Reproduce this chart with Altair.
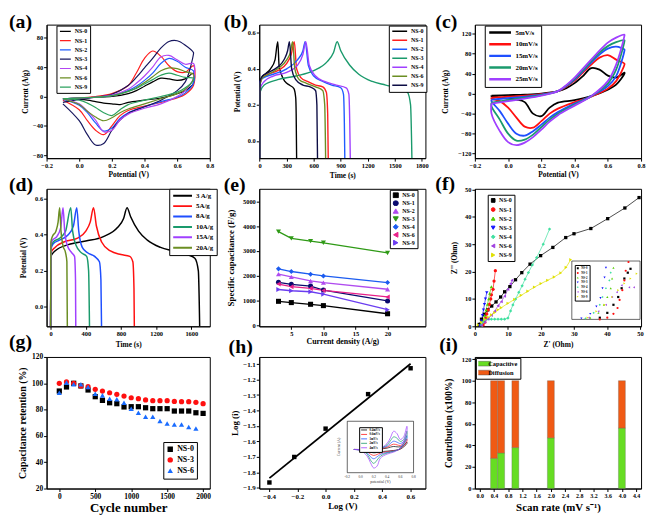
import altair as alt
import pandas as pd

FONT = "Liberation Serif"

# ---------------- (a) CV of the samples ----------------
A_NAMES = ["NS-0", "NS-1", "NS-2", "NS-3", "NS-4", "NS-6", "NS-9"]
A_COLORS = ["#000000", "#ff1f1f", "#1f5cff", "#17175e", "#b346f2", "#6b8e23", "#2ca25f"]
A_POT = [-0.1, 0.0, 0.1, 0.2, 0.3, 0.35, 0.4, 0.45, 0.5, 0.55, 0.6, 0.65, 0.7,
         0.7, 0.65, 0.6, 0.5, 0.4, 0.3, 0.25, 0.2, 0.15, 0.1, 0.05, 0.0, -0.1]
A_NS0 = [-3, -2, -1, 0, 4, 8, 14, 20, 25, 24, 22, 24, 32, 18, 8, 4, -2, -5, -8, -11, -10, -9, -7, -5, -4, -3]
A_NS1 = [-3, -2, 0, 4, 15, 32, 52, 62, 55, 42, 34, 33, 42, 15, 3, -2, -8, -13, -19, -26, -40, -52, -46, -33, -18, -5]
A_NS2 = [-3, -2, -1, 1, 8, 14, 22, 32, 45, 52, 48, 40, 35, 18, 5, -1, -7, -14, -22, -30, -43, -47, -36, -22, -12, -4]
A_NS3 = [-8, -4, -1, 3, 15, 26, 39, 52, 66, 75, 76, 70, 60, 58, 20, 8, -5, -14, -23, -32, -46, -64, -66, -52, -33, -10]
A_NS4 = [-3, -2, -1, 2, 10, 18, 28, 40, 54, 56, 50, 44, 45, 25, 8, 0, -10, -16, -24, -32, -46, -48, -32, -20, -10, -3]
A_NS6 = [-3, -2, -1, 1, 7, 12, 19, 27, 35, 39, 38, 34, 30, 24, 10, 4, -3, -10, -17, -22, -29, -33, -28, -20, -11, -3]
A_NS9 = [-3, -2, -1, 1, 7, 11, 17, 23, 29, 32, 29, 26, 25, 22, 12, 6, 0, -5, -11, -18, -26, -22, -15, -9, -5, -3]

# ---------------- (b) GCD of the samples ----------------
B_COLORS = ["#000000", "#ff1f1f", "#1f5cff", "#1a9a6c", "#a040ff", "#6b8e23", "#0d0d45"]
B_T_NS0 = [0, 2, 20, 60, 120, 170, 201, 215, 240, 280, 330, 380, 400, 405, 410]
B_V_NS0 = [-0.095, 0.30, 0.35, 0.37, 0.40, 0.45, 0.55, 0.42, 0.37, 0.33, 0.31, 0.29, 0.24, 0.15, -0.095]
B_T_NS1 = [0, 3, 30, 100, 200, 300, 350, 384, 410, 460, 530, 620, 700, 740, 755, 761]
B_V_NS1 = [-0.095, 0.32, 0.35, 0.37, 0.39, 0.43, 0.48, 0.55, 0.40, 0.35, 0.33, 0.31, 0.30, 0.27, 0.15, -0.095]
B_T_NS2 = [0, 3, 40, 150, 300, 420, 480, 505, 540, 600, 700, 800, 900, 930, 940, 945]
B_V_NS2 = [-0.095, 0.33, 0.35, 0.37, 0.40, 0.45, 0.50, 0.55, 0.42, 0.36, 0.33, 0.31, 0.295, 0.26, 0.1, -0.095]
B_T_NS3 = [0, 3, 50, 200, 400, 600, 750, 820, 860, 900, 1000, 1100, 1250, 1400, 1550, 1640, 1675, 1690]
B_V_NS3 = [-0.095, 0.27, 0.31, 0.34, 0.36, 0.39, 0.44, 0.49, 0.55, 0.50, 0.42, 0.37, 0.33, 0.31, 0.29, 0.27, 0.2, -0.095]
B_T_NS4 = [0, 3, 50, 150, 300, 420, 480, 512, 550, 620, 720, 850, 960, 990, 1000, 1006]
B_V_NS4 = [-0.095, 0.29, 0.33, 0.36, 0.38, 0.42, 0.48, 0.55, 0.42, 0.36, 0.33, 0.31, 0.295, 0.26, 0.1, -0.095]
B_T_NS6 = [0, 3, 30, 100, 200, 300, 340, 366, 390, 440, 520, 620, 700, 722, 732]
B_V_NS6 = [-0.095, 0.31, 0.35, 0.37, 0.40, 0.45, 0.49, 0.55, 0.40, 0.34, 0.32, 0.30, 0.28, 0.2, -0.095]
B_T_NS9 = [0, 3, 30, 100, 200, 270, 310, 330, 355, 400, 480, 560, 620, 635, 642]
B_V_NS9 = [-0.095, 0.33, 0.36, 0.38, 0.41, 0.45, 0.50, 0.55, 0.40, 0.34, 0.31, 0.30, 0.28, 0.2, -0.095]

# ---------------- (c) CV at scan rates ----------------
C_NAMES = ["5mV/s", "10mV/s", "15mV/s", "20mV/s", "25mV/s"]
C_COLORS = ["#000000", "#ff1010", "#1f4fff", "#1a9a6c", "#a040ff"]
C_POT = [-0.1, 0.0, 0.1, 0.2, 0.3, 0.35, 0.4, 0.45, 0.5, 0.55, 0.6, 0.65, 0.7,
         0.7, 0.65, 0.6, 0.5, 0.4, 0.3, 0.25, 0.2, 0.15, 0.1, 0.05, 0.0, -0.05, -0.1, -0.1]
C_5 = [-4, -3, -2, 0, 5, 11, 21, 35, 51, 48, 36, 32, 42, 40, 18, 8, -5, -13, -18, -28, -45, -40, -17, -12, -10, -8, -5, -4]
C_10 = [-8, -6, -4, -1, 5, 14, 26, 42, 58, 72, 77, 68, 60, 58, 25, 10, -6, -17, -30, -40, -55, -68, -66, -48, -28, -15, -10, -8]
C_15 = [-12, -9, -6, -2, 5, 15, 28, 45, 62, 78, 90, 94, 88, 86, 35, 15, -5, -20, -37, -48, -62, -75, -84, -80, -60, -35, -15, -12]
C_20 = [-18, -13, -8, -3, 5, 16, 30, 47, 65, 82, 95, 103, 107, 105, 48, 20, -5, -22, -40, -52, -67, -82, -92, -94, -80, -52, -25, -18]
C_25 = [-20, -15, -10, -4, 5, 17, 32, 50, 68, 86, 102, 112, 118, 116, 58, 25, -5, -24, -43, -56, -72, -87, -98, -103, -97, -75, -40, -20]

# ---------------- (d) GCD at current densities ----------------
D_NAMES = ["3 A/g", "5A/g", "8A/g", "10A/g", "15A/g", "20A/g"]
D_COLORS = ["#000000", "#ff1010", "#1f4fff", "#1a9a6c", "#a040ff", "#6b8e23"]
D_T_3 = [0, 3, 50, 200, 400, 600, 760, 830, 869, 910, 1000, 1100, 1250, 1400, 1550, 1640, 1680, 1695]
D_V_3 = [-0.108, 0.28, 0.31, 0.345, 0.365, 0.39, 0.44, 0.49, 0.55, 0.50, 0.42, 0.37, 0.33, 0.31, 0.29, 0.27, 0.2, -0.108]
D_T_5 = [0, 3, 50, 150, 300, 400, 450, 488, 520, 580, 680, 800, 900, 935, 948, 952]
D_V_5 = [-0.108, 0.30, 0.33, 0.36, 0.38, 0.42, 0.47, 0.55, 0.45, 0.36, 0.31, 0.29, 0.28, 0.25, 0.1, -0.108]
D_T_8 = [0, 3, 30, 100, 200, 260, 297, 320, 360, 420, 500, 555, 572, 579]
D_V_8 = [-0.108, 0.32, 0.35, 0.37, 0.40, 0.45, 0.55, 0.42, 0.33, 0.30, 0.28, 0.25, 0.15, -0.108]
D_T_10 = [0, 3, 30, 100, 170, 229, 250, 290, 350, 410, 432, 442]
D_V_10 = [-0.108, 0.33, 0.36, 0.38, 0.42, 0.55, 0.42, 0.34, 0.30, 0.28, 0.2, -0.108]
D_T_15 = [0, 3, 20, 70, 115, 141, 160, 190, 240, 272, 283, 286]
D_V_15 = [-0.108, 0.34, 0.37, 0.39, 0.44, 0.55, 0.42, 0.34, 0.30, 0.28, 0.15, -0.108]
D_T_20 = [0, 3, 20, 60, 85, 103, 118, 140, 170, 185, 190]
D_V_20 = [-0.108, 0.36, 0.39, 0.42, 0.47, 0.55, 0.42, 0.34, 0.30, 0.25, -0.108]

# ---------------- (e) rate capability ----------------
E_CUR = [3, 5, 8, 10, 20]
E_COLORS = ["#000000", "#0a0a6e", "#b04cef", "#2f9a16", "#1c5cf0", "#e8208a", "#6a3df0"]
E_SHAPES = ["square", "circle", "triangle-up", "triangle-down", "diamond", "triangle-left", "triangle-right"]
E_NS0 = [975, 924, 856, 802, 475]
E_NS1 = [1740, 1657, 1590, 1427, 990]
E_NS2 = [2070, 1957, 1793, 1726, 1460]
E_NS3 = [3780, 3505, 3397, 3329, 2920]
E_NS4 = [2280, 2174, 2065, 1997, 1730]
E_NS6 = [1670, 1562, 1495, 1413, 1150]
E_NS9 = [1450, 1400, 1360, 1264, 640]

# ---------------- (f) Nyquist ----------------
F_COLORS = ["#000000", "#ff1010", "#55cc00", "#1010ff", "#40e0a0", "#a040e0", "#e0e000"]
F_NS0_X = [1.3, 2.0, 2.9, 3.9, 5.1, 6.4, 7.8, 9.0, 10.6, 12.3, 14.2, 16.7, 19.9, 23.6, 27.5, 30.0, 35.1, 40.2, 45.4, 49.7]
F_NS0_Y = [0.7, 2.6, 4.4, 6.0, 7.4, 8.9, 10.7, 12.6, 14.5, 17.0, 19.6, 22.7, 25.8, 28.8, 32.4, 33.8, 35.7, 39.3, 43.2, 47.0]
F_NS1_X = [2.5, 3.0, 3.3, 3.6, 4.0, 4.4, 4.8, 5.0, 5.5, 5.8, 6.2]
F_NS1_Y = [0.5, 1.5, 3.0, 4.5, 6.0, 8.0, 10.0, 11.5, 13.5, 16.5, 20.3]
F_NS2_X = [2.0, 2.5, 3.0, 3.4, 3.8, 4.2, 4.5, 5.0]
F_NS2_Y = [0.5, 2.0, 4.0, 6.0, 8.0, 10.0, 12.0, 14.5]
F_NS3_X = [1.5, 2.0, 2.3, 2.6, 2.9, 3.2, 3.6]
F_NS3_Y = [0.3, 2.0, 4.0, 6.0, 8.0, 10.0, 12.3]
F_NS4_X = [2.0, 2.5, 3.0, 4, 5, 6, 7, 8, 9, 10, 10.8, 11.5, 12.3, 13.3, 14.3, 15.2, 16.2, 17.4, 18.7, 20.7, 22.6]
F_NS4_Y = [0.5, 1.5, 2.4, 2.6, 2.6, 2.6, 2.6, 2.6, 2.6, 3.0, 5.6, 7.8, 9.9, 12.4, 14.8, 17.2, 19.6, 22.4, 25.1, 30.0, 35.5]
F_NS6_X = [2.0, 3.0, 4.0, 5.0, 6.0, 7.0, 8.0, 9.0, 10.0, 10.8, 11.2]
F_NS6_Y = [0.3, 1.5, 2.7, 4.0, 5.5, 7.5, 9.0, 11.0, 13.5, 15.5, 16.8]
F_NS9_X = [1, 2, 3, 4, 5, 6, 7, 8, 10, 12, 14, 16, 18, 20, 22, 24, 26, 27.6, 29]
F_NS9_Y = [0.5, 1.5, 2.5, 3.3, 4.2, 5.0, 6.0, 6.8, 8.4, 9.8, 11.3, 12.8, 14.3, 15.6, 16.8, 18.0, 19.5, 21.5, 24.3]
# inset of (f)
FI_NS0_X = [4.1, 5.2, 6.1, 6.8, 7.3, 7.7, 8.2, 8.6]
FI_NS0_Y = [0.17, 0.67, 1.5, 2.3, 3.2, 4.2, 4.8, 5.2]
FI_NS1_X = [4.1, 5.2, 6.1, 6.7, 7.0, 7.4, 7.7, 7.9, 8.3]
FI_NS1_Y = [0.0, 0.17, 0.57, 1.17, 2.0, 3.0, 4.0, 5.0, 5.9]
FI_NS2_X = [2.7, 3.9, 4.7, 5.2, 5.7, 5.9, 6.1]
FI_NS2_Y = [0.17, 0.67, 1.5, 2.3, 3.2, 4.2, 5.3]
FI_NS3_X = [1.4, 2.7, 3.6, 4.2, 4.5, 4.8, 5.0]
FI_NS3_Y = [0.1, 0.57, 1.33, 2.2, 3.2, 4.3, 5.3]
FI_NS4_X = [2.0, 3.2, 4.1, 4.5, 5.0, 5.5, 5.7]
FI_NS4_Y = [0.1, 0.67, 1.5, 2.3, 3.2, 4.0, 4.8]
FI_NS6_X = [2.5, 3.9, 5.0, 5.9, 6.6, 7.3, 8.4, 9.1]
FI_NS6_Y = [0.17, 0.83, 1.5, 2.3, 2.8, 3.5, 3.3, 3.3]
FI_NS9_X = [2.3, 3.6, 4.8, 5.9, 6.8, 7.7, 8.6, 9.5]
FI_NS9_Y = [0.17, 0.83, 1.5, 2.3, 3.0, 3.7, 4.2, 4.7]

# ---------------- (g) cycling ----------------
G_NAMES = ["NS-0", "NS-3", "NS-6"]
G_COLORS = ["#000000", "#ff1010", "#1a6cff"]
G_SHAPES = ["square", "circle", "triangle-up"]
G_CYC = [0, 100, 200, 300, 400, 500, 600, 700, 800, 900, 1000, 1100, 1200, 1300, 1400, 1500, 1600, 1700, 1800, 1900, 2000]
G_NS0 = [94.1, 97.2, 100, 98, 94.9, 89.8, 87, 85.2, 84.5, 82, 82.2, 82.2, 81.4, 80.7, 80.7, 80.7, 78.9, 78.9, 78.9, 77.6, 77.1]
G_NS3 = [100, 101, 100, 98, 97.4, 95.4, 94.1, 92.8, 91.6, 90.3, 89, 88.3, 87.3, 86.8, 86.8, 86.8, 86.2, 86, 86, 85.5, 84.5]
G_NS6 = [92.8, 100.5, 99.2, 99.2, 97.2, 92, 90.8, 88.3, 87.8, 85.2, 80.7, 77.6, 74.6, 74.6, 71.3, 69.5, 68.7, 68.7, 66.7, 65.7]

# ---------------- (h) log(i) vs log(v) ----------------
H_LOGV = [-0.398, -0.222, 0.0, 0.301, 0.602]
H_LOGI = [-1.865, -1.70, -1.517, -1.294, -1.127]
HI_NAMES = ["0.4mV/s", "0.6mV/s", "1mV/s", "2mV/s", "4mV/s"]
HI_COLORS = ["#000000", "#ff1010", "#1f4fff", "#1a9a6c", "#a040ff"]
HI_POT = [-0.1, 0.1, 0.2, 0.3, 0.4, 0.45, 0.5, 0.55, 0.6, 0.65, 0.7,
          0.7, 0.6, 0.5, 0.4, 0.3, 0.25, 0.2, 0.15, 0.1, 0.0, -0.1]
HI_04 = [0, 0, 1, 2, 4, 7, 9, 8, 8, 12, 22, 18, 1, -3, -5, -7, -9, -10, -8, -4, -1, 0]
HI_06 = [0, 0, 1, 2, 7, 12, 16, 14, 12, 18, 32, 25, 2, -4, -7, -11, -15, -18, -14, -6, -1, 0]
HI_1 = [0, 0, 1, 3, 10, 18, 25, 22, 18, 24, 42, 32, 3, -5, -9, -15, -22, -28, -22, -10, -2, 0]
HI_2 = [0, 0, 1, 3, 14, 26, 38, 34, 24, 30, 55, 42, 4, -6, -11, -20, -32, -42, -32, -14, -2, 0]
HI_4 = [0, 0, 1, 4, 18, 35, 55, 48, 30, 38, 70, 55, 5, -8, -14, -26, -50, -56, -40, -20, -3, 0]
HI_TICKS = [-0.2, 0.0, 0.2, 0.4, 0.6, 0.8]
HI_TICK_TEXT = ["-0.2", "0.0", "0.2", "0.4", "0.6", "0.8"]

# ---------------- (i) contributions ----------------
I_RATE = [0.4, 0.6, 1.0, 2.0, 4.0]
I_CAP = [28, 33, 38, 47, 56]
I_DIF = [72, 67, 62, 53, 44]
I_NAMES = ["Capacitive", "Diffusion"]
I_COLORS = ["#66dd22", "#f05a14"]

# ================= layout =================
W = [165, 168, 168]
H = [135, 139, 133]


def series_df(names, xs_list, ys_list):
    rows = []
    for n, xs, ys in zip(names, xs_list, ys_list):
        for i, (xv, yv) in enumerate(zip(xs, ys)):
            rows.append({"s": n, "x": xv, "y": yv, "o": i})
    return pd.DataFrame(rows)


def xenc(domain, title, values, fmt, lsize=6.5, tsize=7.5, tpad=3):
    return alt.X("x:Q", scale=alt.Scale(domain=domain, nice=False, zero=False),
                 axis=alt.Axis(title=title, values=values, format=fmt, labelFontSize=lsize,
                               titleFontSize=tsize, titlePadding=tpad))


def yenc(domain, title, values, fmt, lsize=6.5, tsize=7.5, tpad=3, stack=None):
    kw = {}
    if stack:
        kw["stack"] = stack
    return alt.Y("y:Q", scale=alt.Scale(domain=domain, nice=False, zero=False),
                 axis=alt.Axis(title=title, values=values, format=fmt, labelFontSize=lsize,
                               titleFontSize=tsize, titlePadding=tpad), **kw)


def leg(x, y, size=6.0, rowpad=2.5, stype=None, ssize=100, swidth=1.5, pad=3, offset=3, clip=7):
    kw = dict(title=None, orient="none", legendX=x, legendY=y, labelFont=FONT,
              labelFontWeight="bold", labelFontSize=size, labelColor="black",
              strokeColor="black", fillColor="white", padding=pad, rowPadding=rowpad,
              symbolSize=ssize, symbolStrokeWidth=swidth, labelOffset=offset, clipHeight=clip)
    if stype:
        kw["symbolType"] = stype
    return alt.Legend(**kw)


def colr(names, colors, legend):
    return alt.Color("s:N", scale=alt.Scale(domain=names, range=colors), legend=legend)


def letter(txt, dx, dy):
    # dy is the top of the text box (baseline "top")
    return alt.Chart(pd.DataFrame({"t": [txt]})).mark_text(
        font=FONT, fontWeight="bold", fontSize=20, align="left", baseline="top", color="black"
    ).encode(x=alt.value(dx), y=alt.value(dy), text="t:N")


def inset_domain(lo, hi, p0, p1, total):
    k = (hi - lo) / (p1 - p0)
    return [lo - p0 * k, hi + (total - p1) * k]


def frame(x0, x1, y0, y1):
    return alt.Chart(pd.DataFrame({"k": [0]})).mark_rect(
        fill="white", stroke="black", strokeWidth=0.6
    ).encode(x=alt.value(x0), x2=alt.value(x1), y=alt.value(y0), y2=alt.value(y1))


# ---- (a)
da = series_df(A_NAMES, [A_POT] * 7, [A_NS0, A_NS1, A_NS2, A_NS3, A_NS4, A_NS6, A_NS9])
pa = alt.layer(
    alt.Chart(da).mark_line(strokeWidth=1.2, interpolate="catmull-rom", clip=True).encode(
        x=xenc([-0.2, 0.8], "Potential (V)", [-0.2, 0.0, 0.2, 0.4, 0.6, 0.8], ".1f", tpad=2),
        y=yenc([-84, 98], "Current (A/g)", [-80, -40, 0, 40, 80], "d", tpad=3.5),
        color=colr(A_NAMES, A_COLORS, leg(10, 1, 6, 2.4, "stroke", 121, 1.2, pad=2.5, clip=6.5)),
        order=alt.Order("o:Q")),
    letter("(a)", -38, -13),
).properties(width=W[0], height=H[0])

# ---- (b)
db = series_df(A_NAMES, [B_T_NS0, B_T_NS1, B_T_NS2, B_T_NS3, B_T_NS4, B_T_NS6, B_T_NS9],
               [B_V_NS0, B_V_NS1, B_V_NS2, B_V_NS3, B_V_NS4, B_V_NS6, B_V_NS9])
pb = alt.layer(
    alt.Chart(db).mark_line(strokeWidth=1.4, interpolate="monotone", clip=True).encode(
        x=xenc([-5, 1840], "Time (s)", [0, 300, 600, 900, 1200, 1500, 1800], "d", tpad=3.5),
        y=yenc([-0.095, 0.645], "Potential (V)", [0.0, 0.2, 0.4, 0.6], ".1f", tpad=6),
        color=colr(A_NAMES, B_COLORS, leg(131, 1, 6, 2.1, "stroke", 225, 1.6, pad=2.5, clip=6.5)),
        order=alt.Order("o:Q")),
    letter("(b)", -36, -13),
).properties(width=W[1], height=H[0])

# ---- (c)
dc = series_df(C_NAMES, [C_POT] * 5, [C_5, C_10, C_15, C_20, C_25])
pc = alt.layer(
    alt.Chart(dc).mark_line(strokeWidth=1.8, interpolate="catmull-rom", clip=True).encode(
        x=xenc([-0.2, 0.8], "Potential (V)", [-0.2, 0.0, 0.2, 0.4, 0.6, 0.8], ".1f", tpad=2),
        y=yenc([-129, 138], "Current (A/g)", [-120, -80, -40, 0, 40, 80, 120], "d", tpad=8),
        color=colr(C_NAMES, C_COLORS, leg(10, 1, 7, 3.8, "stroke", 484, 2.5, pad=3, clip=8)),
        order=alt.Order("o:Q")),
    letter("(c)", -40, -13),
).properties(width=W[2], height=H[0])

# ---- (d)
dd = series_df(D_NAMES, [D_T_3, D_T_5, D_T_8, D_T_10, D_T_15, D_T_20],
               [D_V_3, D_V_5, D_V_8, D_V_10, D_V_15, D_V_20])
pd_ = alt.layer(
    alt.Chart(dd).mark_line(strokeWidth=1.5, interpolate="monotone", clip=True).encode(
        x=xenc([-46, 1810], "Time (s)", [0, 400, 800, 1200, 1600], "d", tpad=3.5),
        y=yenc([-0.108, 0.655], "Potential (V)", [0.0, 0.2, 0.4, 0.6], ".1f", tpad=7),
        color=colr(D_NAMES, D_COLORS, leg(124, 0, 7, 2.5, "stroke", 361, 2, pad=3, clip=8)),
        order=alt.Order("o:Q")),
    letter("(d)", -38, -14),
).properties(width=W[0], height=H[1])

# ---- (e)
E_NAMES = A_NAMES
de = series_df(E_NAMES, [E_CUR] * 7, [E_NS0, E_NS1, E_NS2, E_NS3, E_NS4, E_NS6, E_NS9])
e_leg = leg(132, 1, 6, 2, None, 26, 1, pad=2.5, clip=6)
ex = xenc([0, 25.9], "Current density (A/g)", [5, 10, 15, 20], "d", tsize=8, tpad=1)
ey = yenc([-30, 5500], "Specific capacitance (F/g)", [0, 1000, 2000, 3000, 4000, 5000], "d", tsize=9, tpad=7)
pe = alt.layer(
    alt.Chart(de).mark_line(strokeWidth=1.3).encode(x=ex, y=ey, color=colr(E_NAMES, E_COLORS, e_leg)),
    alt.Chart(de).mark_point(filled=True, size=26, opacity=1).encode(
        x=ex, y=ey, color=colr(E_NAMES, E_COLORS, e_leg),
        shape=alt.Shape("s:N", scale=alt.Scale(domain=E_NAMES, range=E_SHAPES), legend=e_leg)),
    letter("(e)", -36, -14),
).properties(width=W[1], height=H[1])

# ---- (f)
df_main = series_df(A_NAMES, [F_NS0_X, F_NS1_X, F_NS2_X, F_NS3_X, F_NS4_X, F_NS6_X, F_NS9_X],
                    [F_NS0_Y, F_NS1_Y, F_NS2_Y, F_NS3_Y, F_NS4_Y, F_NS6_Y, F_NS9_Y])
df_in = series_df(A_NAMES, [FI_NS0_X, FI_NS1_X, FI_NS2_X, FI_NS3_X, FI_NS4_X, FI_NS6_X, FI_NS9_X],
                  [FI_NS0_Y, FI_NS1_Y, FI_NS2_Y, FI_NS3_Y, FI_NS4_Y, FI_NS6_Y, FI_NS9_Y])
f_leg = leg(13, 6, 6, 2.2, None, 14, 1, pad=2.5, clip=6.5)
fx = xenc([0, 50.3], "Z' (Ohm)", [0, 10, 20, 30, 40, 50], "d", tpad=3.5)
fy = yenc([0, 50.2], "Z'' (Ohm)", [0, 10, 20, 30, 40, 50], "d", tpad=6)
f_main = alt.layer(
    alt.Chart(df_main).mark_line(strokeWidth=0.7).encode(
        x=fx, y=fy, color=colr(A_NAMES, F_COLORS, f_leg), order=alt.Order("o:Q")),
    alt.Chart(df_main).mark_point(filled=True, size=11, opacity=1).encode(
        x=fx, y=fy, color=colr(A_NAMES, F_COLORS, f_leg),
        shape=alt.Shape("s:N", scale=alt.Scale(domain=A_NAMES, range=E_SHAPES), legend=f_leg)),
    letter("(f)", -40, -15),
)
FIN = (98, 167, 73, 132)
fix = alt.X("x:Q", scale=alt.Scale(domain=inset_domain(0, 10, FIN[0], FIN[1], W[2]), nice=False, zero=False), axis=None)
fiy = alt.Y("y:Q", scale=alt.Scale(domain=inset_domain(0, 6, H[1] - FIN[3], H[1] - FIN[2], H[1]), nice=False, zero=False), axis=None)
fi_leg = leg(FIN[0] + 3, FIN[2] + 4, 3, 0.8, None, 4, 0.5, pad=1.5, offset=2, clip=3.4)
f_inset = alt.layer(
    frame(*FIN),
    alt.Chart(df_in).mark_point(filled=True, size=5, opacity=1).encode(
        x=fix, y=fiy, color=colr(A_NAMES, F_COLORS, fi_leg),
        shape=alt.Shape("s:N", scale=alt.Scale(domain=A_NAMES, range=E_SHAPES), legend=fi_leg)),
)
pf = alt.layer(f_main, f_inset).resolve_scale(
    x="independent", y="independent", color="independent", shape="independent"
).properties(width=W[2], height=H[1])

# ---- (g)
dg = series_df(G_NAMES, [G_CYC, G_CYC, G_CYC[:20]], [G_NS0, G_NS3, G_NS6])
g_leg = leg(118, 86, 8, 1.8, None, 30, 1, pad=3, clip=8.5)
pg = alt.layer(
    alt.Chart(dg).mark_point(filled=True, size=28, opacity=1).encode(
        x=xenc([-177, 2093], "Cycle number", [0, 500, 1000, 1500, 2000], "d", lsize=7.5, tsize=13, tpad=1.5),
        y=yenc([20, 120], "Capacitance retention (%)", [20, 40, 60, 80, 100, 120], "d", lsize=7.5, tsize=10, tpad=4),
        color=colr(G_NAMES, G_COLORS, g_leg),
        shape=alt.Shape("s:N", scale=alt.Scale(domain=G_NAMES, range=G_SHAPES), legend=g_leg)),
    letter("(g)", -38, -25),
).properties(width=W[0], height=H[2])

# ---- (h)
dh = pd.DataFrame({"x": H_LOGV, "y": H_LOGI})
hx = xenc([-0.47, 0.707], "Log (V)", [-0.4, -0.2, 0.0, 0.2, 0.4, 0.6], ".1f", lsize=7, tsize=9, tpad=2.5)
hy = yenc([-1.904, -1.054], "Log (i)", [-1.9, -1.8, -1.7, -1.6, -1.5, -1.4, -1.3, -1.2, -1.1], ".1f", lsize=7, tsize=9, tpad=3.5)
h_main = alt.layer(
    alt.Chart(dh).transform_regression("x", "y").mark_line(color="black", strokeWidth=1.8).encode(x=hx, y=hy),
    alt.Chart(dh).mark_square(size=20, color="black", opacity=1).encode(x=hx, y=hy),
    letter("(h)", -31, -20),
)
HIN = (89, 156, 65, 117)
dhi = series_df(HI_NAMES, [HI_POT] * 5, [HI_04, HI_06, HI_1, HI_2, HI_4])
hix = alt.X("x:Q", scale=alt.Scale(domain=inset_domain(-0.2, 0.8, HIN[0], HIN[1], W[1]), nice=False, zero=False), axis=None)
hiy = alt.Y("y:Q", scale=alt.Scale(domain=inset_domain(-70, 85, H[2] - HIN[3], H[2] - HIN[2], H[2]), nice=False, zero=False), axis=None)
hi_leg = leg(HIN[0] + 12, HIN[2] + 6, 3, 0.5, "stroke", 36, 0.8, pad=1.5, offset=2, clip=2.6)
h_inset = alt.layer(
    frame(*HIN),
    alt.Chart(dhi).mark_line(strokeWidth=0.7, interpolate="catmull-rom").encode(
        x=hix, y=hiy, color=colr(HI_NAMES, HI_COLORS, hi_leg), order=alt.Order("o:Q")),
    alt.Chart(pd.DataFrame({"x": HI_TICKS, "t": HI_TICK_TEXT})).mark_text(
        font=FONT, fontSize=3.5, color="#333333", baseline="top").encode(
        x=hix, y=alt.value(HIN[3] + 2), text="t:N"),
    alt.Chart(pd.DataFrame({"t": ["potential (V)"]})).mark_text(
        font=FONT, fontSize=4, color="#333333", baseline="top").encode(
        x=alt.value((HIN[0] + HIN[1]) / 2), y=alt.value(HIN[3] + 7), text="t:N"),
    alt.Chart(pd.DataFrame({"t": ["Current (A)"]})).mark_text(
        font=FONT, fontSize=4, color="#333333", angle=270).encode(
        x=alt.value(HIN[0] - 8), y=alt.value((HIN[2] + HIN[3]) / 2), text="t:N"),
)
ph = alt.layer(h_main, h_inset).resolve_scale(
    x="independent", y="independent", color="independent"
).properties(width=W[1], height=H[2])

# ---- (i)
rows = []
for r, c, d in zip(I_RATE, I_CAP, I_DIF):
    rows.append({"x": r, "y": c, "s": I_NAMES[0], "k": 0})
    rows.append({"x": r, "y": d, "s": I_NAMES[1], "k": 1})
di = pd.DataFrame(rows)
pi = alt.layer(
    alt.Chart(di).mark_bar(size=7, stroke="#555555", strokeWidth=0.3).encode(
        x=xenc([0, 4.4], "Scan rate (mV s\u207b\u00b9)", [0.0, 0.4, 0.8, 1.2, 1.6, 2.0, 2.4, 2.8, 3.2, 3.6, 4.0, 4.4], ".1f", lsize=6, tsize=11, tpad=3),
        y=yenc([0, 122], "Contribution (x100%)", [0, 20, 40, 60, 80, 100, 120], "d", lsize=6.5, tsize=9.5, tpad=8, stack="zero"),
        color=colr(I_NAMES, I_COLORS, leg(1, 1, 6.5, 2, "M-3,-0.8H3V0.8H-3Z", 36, 0.5, pad=2.5, clip=6.5)),
        order=alt.Order("k:Q")),
    letter("(i)", -36, -22),
).properties(width=W[2], height=H[2])

chart = alt.concat(
    pa, pb, pc, pd_, pe, pf, pg, ph, pi,
    columns=3, spacing={"row": 31, "column": 50}, bounds="flush", align="each",
).resolve_scale(
    color="independent", shape="independent"
).properties(
    padding={"left": 0, "top": 0, "right": 0, "bottom": 0},
    autosize=alt.AutoSizeParams(type="pad"),
    background="white",
).configure_view(
    stroke="black", strokeWidth=1
).configure_axis(
    labelFont=FONT, titleFont=FONT, labelFontWeight="bold", titleFontWeight="bold",
    labelColor="black", titleColor="black", domainColor="black", tickColor="black",
    grid=False, tickSize=3, labelPadding=1, labelFlush=False, labelOverlap=False, domainWidth=1,
)

chart.save("out.html", embed_options={"renderer": "svg", "actions": False})
